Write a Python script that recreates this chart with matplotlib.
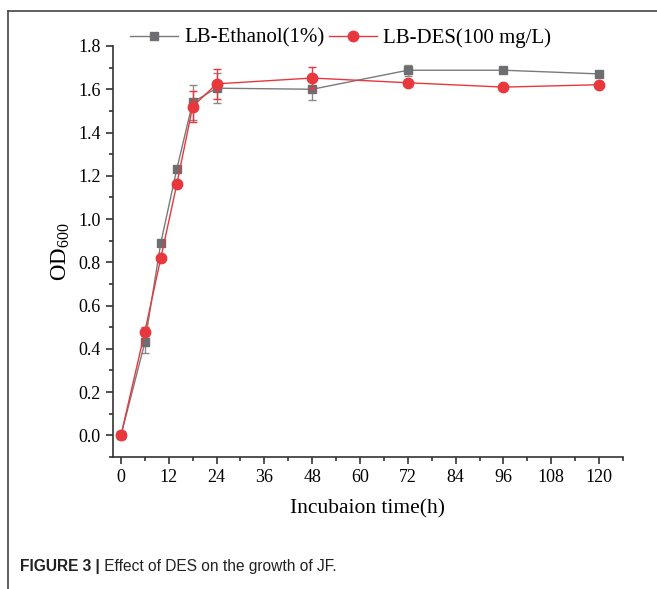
import matplotlib.pyplot as plt
from matplotlib.lines import Line2D
from matplotlib.ticker import MultipleLocator

# === data ===
time_h = [0, 6, 10, 14, 18, 24, 48, 72, 96, 120]
od_ethanol = [0.00, 0.43, 0.89, 1.23, 1.54, 1.605, 1.60, 1.688, 1.688, 1.671]
err_ethanol = [0.01, 0.05, 0.01, 0.01, 0.08, 0.07, 0.05, 0.025, 0.01, 0.01]
od_des = [0.00, 0.48, 0.82, 1.16, 1.52, 1.625, 1.652, 1.630, 1.610, 1.621]
err_des = [0.01, 0.02, 0.01, 0.01, 0.07, 0.07, 0.05, 0.01, 0.01, 0.01]

labels = ["LB-Ethanol(1%)", "LB-DES(100 mg/L)"]
gray = "#6d6e71"
red = "#e8383d"

plt.rcParams["font.family"] = ["Liberation Serif", "DejaVu Serif"]
plt.rcParams["mathtext.fontset"] = "stix"

fig = plt.figure(figsize=(6.57, 5.89), dpi=100)
ax = fig.add_axes([113 / 657, 1 - 457 / 589, (623 - 113) / 657, (457 - 46) / 589])

ax.errorbar(time_h, od_ethanol, yerr=err_ethanol, color="#7a7a7a", lw=1.0,
            marker="s", ms=6, mfc=gray, mec=gray, ecolor="#8a8a8a",
            elinewidth=1.0, capsize=3, capthick=1.0, zorder=3)
ax.errorbar(time_h, od_des, yerr=err_des, color=red, lw=1.0,
            marker="o", ms=7.5, mfc=red, mec=red, ecolor=red,
            elinewidth=1.0, capsize=3, capthick=1.0, zorder=4)

ax.set_xlim(-2, 126)
ax.set_ylim(-0.1, 1.8)
ax.xaxis.set_major_locator(MultipleLocator(12))
ax.xaxis.set_minor_locator(MultipleLocator(6))
ax.yaxis.set_major_locator(MultipleLocator(0.2))
ax.yaxis.set_minor_locator(MultipleLocator(0.1))
ax.yaxis.set_major_formatter(plt.FuncFormatter(lambda v, p: f"{v:.1f}"))

for s in ["top", "right"]:
    ax.spines[s].set_visible(False)
for s in ["left", "bottom"]:
    ax.spines[s].set_linewidth(1.2)
    ax.spines[s].set_color("#333333")
ax.tick_params(which="major", direction="out", length=5, width=1.2,
               labelsize=13, color="#333333", pad=4)
ax.tick_params(which="minor", direction="out", length=3, width=1.2, color="#333333")

ax.set_xlabel("Incubaion time(h)", fontsize=15.5, labelpad=9)
ax.set_ylabel(r"OD$_{\mathregular{600}}$", fontsize=16.5, labelpad=5)

# legend handles without error bars
handles = [Line2D([], [], color="#7a7a7a", lw=1.0, marker="s", ms=6, mfc=gray, mec=gray),
           Line2D([], [], color=red, lw=1.0, marker="o", ms=7.5, mfc=red, mec=red)]
fig.legend(handles, labels, loc="center left", bbox_to_anchor=(122 / 657, 1 - 38 / 589),
           ncol=2, frameon=False, fontsize=15, handlelength=2.3,
           handletextpad=0.3, columnspacing=0.2, borderaxespad=0)

# journal frame (top and left rules)
fig.add_artist(Line2D([8 / 657, 1], [1 - 11 / 589, 1 - 11 / 589], transform=fig.transFigure,
                      color="#444444", lw=1.2))
fig.add_artist(Line2D([8 / 657, 8 / 657], [0, 1 - 11 / 589], transform=fig.transFigure,
                      color="#444444", lw=1.2))

cap = fig.text(20 / 657, 1 - 567 / 589, "FIGURE 3 |", fontsize=11.2, fontweight="bold",
               family=["Liberation Sans", "DejaVu Sans"], va="center", color="#222222")
ax.annotate(" Effect of DES on the growth of JF.", xy=(1, 0.5), xycoords=cap,
            va="center", ha="left", fontsize=11.2, color="#222222",
            family=["Liberation Sans", "DejaVu Sans"], annotation_clip=False)

fig.savefig("out.png", dpi=100)
